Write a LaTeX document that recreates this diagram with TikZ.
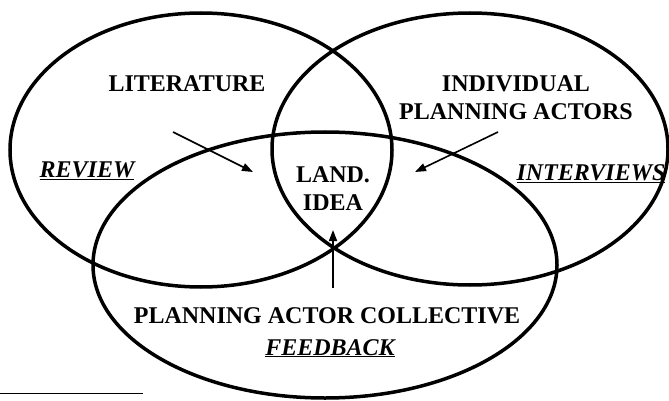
\documentclass[tikz,border=0pt]{standalone}
\usepackage{fontspec}
\setmainfont{Liberation Serif}
\usetikzlibrary{arrows.meta}

\begin{document}
\begin{tikzpicture}[
        x=1pt, y=-1pt,
        set/.style={line width=3.5pt},
        every node/.style={font=\bfseries\fontsize{24}{28}\selectfont, align=center, inner sep=0pt},
        method/.style={font=\bfseries\itshape\fontsize{24}{28}\selectfont, anchor=base},
        push/.style={-{Triangle[length=11pt, width=8pt]}, line width=1.6pt},
    ]
        \useasboundingbox (0,0) rectangle (669,401);
        \draw[set] (201,150) ellipse [x radius=191, y radius=137];
        \draw[set] (470,149) ellipse [x radius=198, y radius=136];
        \draw[set] (325,265) ellipse [x radius=232, y radius=133];
        \draw[line width=1pt] (0,393) -- (143,393);

        \node[anchor=base] (literature) at (187,92) {LITERATURE};
        \node[method] (review) at (87,177) {\underline{REVIEW}};
        \node (actors) at (516,98) {INDIVIDUAL\\PLANNING ACTORS};
        \node[method] (interviews) at (591,180) {\underline{INTERVIEWS}};
        \node (idea) at (333,189) {LAND.\\IDEA};
        \node[anchor=base] (collective) at (327,323) {PLANNING ACTOR COLLECTIVE};
        \node[method] (feedback) at (330,355) {\underline{FEEDBACK}};

        \coordinate (literature-tail) at (173,132);
        \coordinate (literature-tip) at (253,172);
        \coordinate (actors-tail) at (498,132);
        \coordinate (actors-tip) at (415,172);
        \coordinate (collective-tail) at (333,288);
        \coordinate (collective-tip) at (333,230);
        \draw[push] (literature-tail) -- (literature-tip);
        \draw[push] (actors-tail) -- (actors-tip);
        \draw[push] (collective-tail) -- (collective-tip);
    \end{tikzpicture}
\end{document}
